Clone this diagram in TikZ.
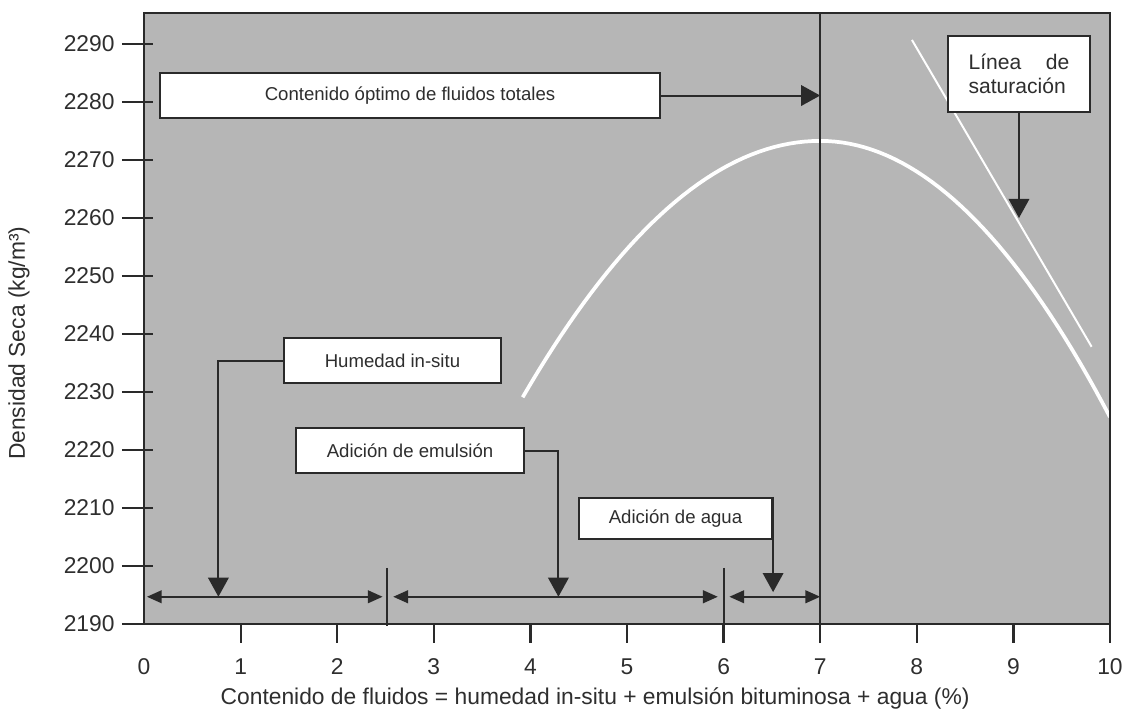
\documentclass[tikz,border=0pt]{standalone}
\usepackage{fontspec}
\setmainfont{Liberation Sans}
\usepackage{tikz}
\usepackage{xcolor}
\usetikzlibrary{arrows.meta,positioning,calc}
\definecolor{chartgray}{HTML}{B6B6B6}
\definecolor{inkdark}{HTML}{2E2E2E}
\definecolor{frameline}{HTML}{2A2A2A}

\begin{document}
\begin{tikzpicture}[
  x=1.369cm, y=0.822cm,
  axText/.style  ={font=\fontsize{9.2}{11}\selectfont\color{inkdark}},
  noteBox/.style ={rectangle, draw=frameline, fill=white, line width=0.9pt, inner sep=0pt, font=\fontsize{7.5}{9}\selectfont\color{inkdark}},
  leader/.style  ={draw=frameline, line width=0.8pt},
  bigTip/.style  ={-{Triangle[length=0.27cm, width=0.29cm]}},
  dimTip/.style  ={{Triangle[length=0.21cm, width=0.18cm]}-{Triangle[length=0.21cm, width=0.18cm]}},
  whiteCurve/.style={white, line width=1.5pt},
]
\useasboundingbox (-1.491,-1.5) rectangle (10.197,10.759);
\def\ytop{10.53}
\fill[chartgray] (0,0) rectangle (10,\ytop);

% compaction curve and saturation line
\draw[whiteCurve] plot[domain=3.92:7, samples=40] (\x,{8.33-0.466*(\x-7)^2})
  -- plot[domain=7:10, samples=40] (\x,{8.33-0.529*(\x-7)^2});
\draw[white!92, line width=0.8pt] (7.95,10.07) -- (9.81,4.78);

\draw[frameline, line width=0.9pt] (0,0) rectangle (10,\ytop);

% axes: density (per 10 kg/m3) and fluid content
\foreach \d in {2190,2200,...,2290} {
  \pgfmathsetmacro{\yy}{(\d-2190)/10}
  \draw[frameline, line width=0.9pt] (-0.23,\yy) -- (0.09,\yy);
  \node[axText, anchor=east, inner sep=0pt] (ylab\d) at (-0.30,\yy) {\d};
}
\foreach \v in {1,...,10}
  \draw[frameline, line width=0.9pt] (\v,0) -- (\v,-0.33);
\foreach \v in {0,...,10}
  \node[axText] (xlab\v) at (\v,-0.74) {\v};
\node[axText, rotate=90] (yTitle) at (-1.294,4.84) {Densidad Seca (kg/m³)};
\node[axText] (xTitle) at (4.67,-1.276) {Contenido de fluidos = humedad in-situ + emulsión bituminosa + agua (\%)};

% optimum line
\coordinate (optTop) at (7,\ytop);
\coordinate (optBot) at (7,-0.33);
\draw[leader] (optBot) -- (optTop);

% label boxes
\node[noteBox, minimum width=7.086cm, minimum height=0.638cm] (optBox) at (2.754,9.112) {Contenido óptimo de fluidos totales};
\coordinate (optPt) at (7,9.112);
\draw[leader, bigTip] (optBox.east) -- (optPt);

\node[noteBox, minimum width=2.012cm, minimum height=1.077cm, text width=1.43cm, align=left,
  font=\fontsize{8.5}{9.6}\selectfont\color{inkdark}] (satBox) at (9.058,9.483) {Línea\hfill de\\saturación};
\coordinate (satPt) at (9.058,7.0);
\draw[leader, bigTip] (satBox.south) -- (satPt);

\node[noteBox, minimum width=3.075cm, minimum height=0.638cm] (humBox) at (2.572,4.543) {Humedad in-situ};
\coordinate (humPt) at (0.77,0.47);
\draw[leader, bigTip] (humBox.west) -| (humPt);

\node[noteBox, minimum width=3.231cm, minimum height=0.638cm] (emuBox) at (2.754,2.991) {Adición de emulsión};
\coordinate (emuPt) at (4.29,0.47);
\draw[leader, bigTip] (emuBox.east) -| (emuPt);

\node[noteBox, minimum width=2.735cm, minimum height=0.581cm] (aguBox) at (5.502,1.819) {Adición de agua};
\coordinate (aguPt) at (aguBox.north east |- 0,0.55);
\draw[leader, bigTip] (aguBox.north east) -- (aguPt);

% fluid ranges along 2195
\coordinate (sepAtop) at (2.52,0.97);
\coordinate (sepAbot) at (2.52,-0.03);
\coordinate (sepBtop) at (6,0.97);
\coordinate (sepBbot) at (6,-0.33);
\draw[leader] (sepAtop) -- (sepAbot);
\draw[leader] (sepBtop) -- (sepBbot);
\coordinate (dimL)  at (0.03,0.47);
\coordinate (dimA1) at (2.47,0.47);
\coordinate (dimA2) at (2.58,0.47);
\coordinate (dimB1) at (5.94,0.47);
\coordinate (dimB2) at (6.06,0.47);
\coordinate (dimR)  at (7,0.47);
\draw[leader, dimTip] (dimL) -- (dimA1);
\draw[leader, dimTip] (dimA2) -- (dimB1);
\draw[leader, dimTip] (dimB2) -- (dimR);
\end{tikzpicture}
\end{document}
